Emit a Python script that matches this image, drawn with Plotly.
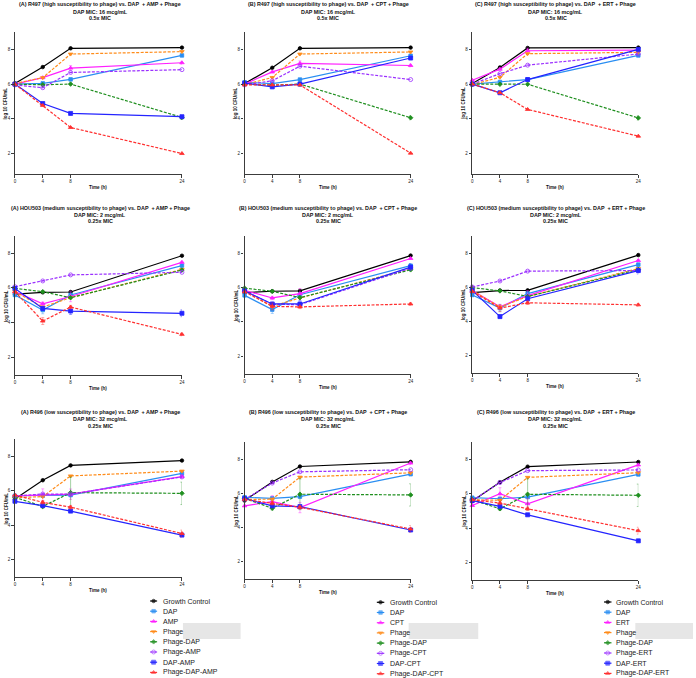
import plotly.graph_objects as go

W, H = 696, 678

TIME = [0, 4, 8, 24]
X_TICKS = [0, 4, 8, 24]
Y_TICKS = [2, 4, 6, 8]

LETTERS = ["(A)", "(B)", "(C)"]
DRUGS = ["AMP", "CPT", "ERT"]
STRAINS = ["R497", "HOU503", "R496"]
SUSCEPT = ["high", "medium", "low"]
MIC_TEXT = ["16 mcg/mL", "2 mcg/mL", "32 mcg/mL"]
FRAC_TEXT = ["0.5x MIC", "0.25x MIC", "0.25x MIC"]

ROLES = ["GC", "DAP", "X", "Phage", "Phage-DAP", "Phage-X", "DAP-X", "Phage-DAP-X"]

# ---- row 1: R497 ----
R497_AMP = {
    "GC": [6.04, 6.98, 8.06, 8.10], "DAP": [6.00, 6.04, 6.27, 7.65],
    "X": [6.00, 6.37, 6.92, 7.23], "Phage": [6.04, 6.37, 7.73, 7.87],
    "Phage-DAP": [6.00, 5.96, 6.00, 4.08], "Phage-X": [5.95, 5.79, 6.67, 6.83],
    "DAP-X": [6.00, 4.88, 4.31, 4.12], "Phage-DAP-X": [6.00, 4.77, 3.50, 2.00],
}
R497_CPT = {
    "GC": [6.03, 6.94, 8.06, 8.10], "DAP": [6.10, 6.03, 6.26, 7.63],
    "X": [6.00, 6.70, 7.19, 7.07], "Phage": [5.97, 6.38, 7.73, 7.85],
    "Phage-DAP": [6.00, 5.93, 6.00, 4.06], "Phage-X": [5.95, 6.19, 7.03, 6.26],
    "DAP-X": [6.05, 5.84, 6.00, 7.50], "Phage-DAP-X": [5.95, 5.95, 5.95, 2.02],
}
R497_ERT = {
    "GC": [6.03, 6.96, 8.08, 8.10], "DAP": [6.00, 6.12, 6.26, 7.65],
    "X": [6.22, 6.86, 7.92, 7.96], "Phage": [5.97, 6.39, 7.75, 7.83],
    "Phage-DAP": [6.00, 5.99, 5.99, 4.05], "Phage-X": [6.00, 6.60, 7.09, 7.73],
    "DAP-X": [6.00, 5.50, 6.26, 8.00], "Phage-DAP-X": [6.00, 5.50, 4.54, 3.00],
}
# ---- row 2: HOU503 ----
HOU503_AMP = {
    "GC": [5.64, 5.74, 5.76, 7.86], "DAP": [5.59, 4.72, 5.59, 7.29],
    "X": [5.78, 5.08, 5.50, 7.48], "Phage": [5.78, 4.89, 5.43, 7.07],
    "Phage-DAP": [5.97, 5.78, 5.43, 7.03], "Phage-X": [6.07, 6.40, 6.75, 6.90],
    "DAP-X": [5.97, 4.81, 4.66, 4.53], "Phage-DAP-X": [5.78, 4.08, 4.89, 3.31],
}
HOU503_CPT = {
    "GC": [5.70, 5.78, 5.80, 7.86], "DAP": [5.54, 4.71, 5.58, 7.27],
    "X": [5.83, 5.39, 5.64, 7.69], "Phage": [5.80, 4.90, 5.39, 7.09],
    "Phage-DAP": [5.96, 5.78, 5.41, 7.03], "Phage-X": [5.80, 5.02, 5.00, 7.13],
    "DAP-X": [5.80, 5.04, 5.04, 7.19], "Phage-DAP-X": [5.75, 4.90, 4.87, 5.04],
}
HOU503_ERT = {
    "GC": [5.68, 5.80, 5.81, 7.88], "DAP": [5.54, 4.77, 5.62, 7.32],
    "X": [5.80, 4.85, 5.50, 7.56], "Phage": [5.80, 4.83, 5.45, 7.09],
    "Phage-DAP": [5.97, 5.78, 5.45, 7.03], "Phage-X": [6.01, 6.36, 6.94, 6.97],
    "DAP-X": [5.80, 4.27, 5.32, 6.97], "Phage-DAP-X": [5.75, 4.77, 5.08, 4.96],
}
# ---- row 3: R496 ----
R496_AMP = {
    "GC": [5.52, 6.61, 7.47, 7.75], "DAP": [5.71, 5.71, 5.75, 7.01],
    "X": [5.70, 5.76, 5.80, 6.82], "Phage": [5.60, 5.66, 6.86, 7.14],
    "Phage-DAP": [5.62, 5.09, 5.89, 5.85], "Phage-X": [5.70, 5.81, 5.81, 6.80],
    "DAP-X": [5.39, 5.14, 4.82, 3.43], "Phage-DAP-X": [5.75, 5.33, 5.05, 3.52],
}
R496_CPT = {
    "GC": [5.58, 6.67, 7.57, 7.84], "DAP": [5.77, 5.71, 5.81, 7.12],
    "X": [5.27, 5.52, 5.17, 7.77], "Phage": [5.65, 5.66, 6.95, 7.20],
    "Phage-DAP": [5.71, 5.13, 5.95, 5.91], "Phage-X": [5.65, 6.60, 7.26, 7.38],
    "DAP-X": [5.70, 5.27, 5.23, 3.86], "Phage-DAP-X": [5.65, 5.42, 5.19, 3.92],
}
R496_ERT = {
    "GC": [5.58, 6.67, 7.57, 7.84], "DAP": [5.77, 5.71, 5.81, 7.12],
    "X": [5.32, 6.00, 5.42, 7.67], "Phage": [5.65, 5.62, 6.95, 7.22],
    "Phage-DAP": [5.65, 5.13, 5.97, 5.91], "Phage-X": [5.60, 6.65, 7.34, 7.38],
    "DAP-X": [5.60, 5.27, 4.78, 3.27], "Phage-DAP-X": [5.65, 5.46, 5.13, 3.86],
}

# error bars (SD) for the visible ones; others are zero
ERR_R497 = {"Phage-DAP": [0, 0, 0, 0.12], "X": [0, 0.05, 0.15, 0.08]}
ERR_HOU503 = {"DAP": [0, 0.22, 0.1, 0.1], "X": [0.15, 0.1, 0.3, 0.05],
              "Phage-DAP-X": [0, 0.2, 0.1, 0.08], "DAP-X": [0, 0.1, 0.2, 0.2]}
ERR_R496 = {"Phage-DAP": [0.05, 0.1, 0.9, 0.65], "X": [0, 0.35, 0.3, 0.1],
            "Phage-DAP-X": [0, 0.1, 0.1, 0.2]}

PANELS = [
    [R497_AMP, R497_CPT, R497_ERT],
    [HOU503_AMP, HOU503_CPT, HOU503_ERT],
    [R496_AMP, R496_CPT, R496_ERT],
]
ERRS = [ERR_R497, ERR_HOU503, ERR_R496]

STYLE = {
    "GC": dict(color="#000000", dash="solid", symbol="circle", size=3.5),
    "DAP": dict(color="#2A8EF2", dash="solid", symbol="square", size=3.5),
    "X": dict(color="#FF1FFF", dash="solid", symbol="triangle-up", size=4),
    "Phage": dict(color="#FF8C1A", dash="3px,1.5px", symbol="triangle-down", size=4),
    "Phage-DAP": dict(color="#1F8F1F", dash="3px,1.5px", symbol="diamond", size=3.5),
    "Phage-X": dict(color="#9B30FF", dash="3px,1.5px", symbol="circle-open", size=4),
    "DAP-X": dict(color="#2424FF", dash="solid", symbol="square", size=4),
    "Phage-DAP-X": dict(color="#FF3030", dash="3px,1.5px", symbol="triangle-up", size=4),
}


def role_label(role, drug):
    return {"GC": "Growth Control"}.get(role, role.replace("X", drug))


def rgba(hexc, a):
    h = hexc.lstrip("#")
    return "rgba(%d,%d,%d,%s)" % (int(h[0:2], 16), int(h[2:4], 16), int(h[4:6], 16), a)


# ---- layout geometry (pixels) ----
COL_X = [(14, 182), (245, 412), (474, 641)]
ROW_Y = [[(32, 174), (32, 174), (32, 174)],
         [(236, 375), (236, 374), (236, 373)],
         [(439, 577), (442, 579), (442, 580)]]
ROW_RANGE = [[0.82, 9.0], [0.96, 9.0], [1.0, 9.0]]
TITLE_Y = [(4.5, 11.5, 18.0), (208.0, 215.0, 221.5), (411.5, 419.0, 426.0)]
TITLE_XC = [100, 329, 558]
LEG_X = [(150, 157, 161), (378, 385.5, 389), (606.5, 614, 617)]
LEG_Y0 = [601, 602.3, 602]
LEG_DY = 10.2
GREY_BOXES = [(183, 241), (410, 480), (638, 696)]
GREY_Y = (623, 639)

FONT = "Arial, Liberation Sans, sans-serif"
AX_COL = "#3c3c3c"


def fx(p):
    return p / W


def fy(p):
    return 1 - p / H


fig = go.Figure()
layout = {}
annotations = []
shapes = []

for r in range(3):
    for c in range(3):
        k = r * 3 + c + 1
        sx = "" if k == 1 else str(k)
        x0, x1 = COL_X[c]
        ytop, ybot = ROW_Y[r][c]
        layout["xaxis" + sx] = dict(
            domain=[fx(x0), fx(x1)], range=[0, 24], anchor="y" + sx,
            showline=True, linecolor=AX_COL, linewidth=1.3, mirror=False,
            showgrid=False, zeroline=False, ticks="outside", ticklen=2.5,
            tickwidth=0.8, tickcolor=AX_COL, tickvals=X_TICKS,
            tickfont=dict(size=4.5, color="#222", family=FONT), fixedrange=True,
        )
        layout["yaxis" + sx] = dict(
            domain=[fy(ybot), fy(ytop)], range=ROW_RANGE[r], anchor="x" + sx,
            showline=True, linecolor=AX_COL, linewidth=1.3, showgrid=False,
            zeroline=False, ticks="outside", ticklen=2.5, tickwidth=0.8,
            tickcolor=AX_COL, tickvals=Y_TICKS,
            tickfont=dict(size=4.5, color="#222", family=FONT), fixedrange=True,
        )
        data = PANELS[r][c]
        err = ERRS[r]
        drug = DRUGS[c]
        for role in ROLES:
            st = STYLE[role]
            e = err.get(role, [0, 0, 0, 0])
            fig.add_trace(go.Scatter(
                x=TIME, y=data[role], mode="lines+markers",
                name=role_label(role, drug), showlegend=False,
                xaxis="x" + sx, yaxis="y" + sx, cliponaxis=False,
                line=dict(color=st["color"], width=1.2, dash=st["dash"]),
                marker=dict(symbol=st["symbol"], size=st["size"], color=st["color"],
                            line=dict(color=st["color"], width=0.8)),
                error_y=dict(type="data", array=e, visible=True,
                             color=rgba(st["color"], 0.45), thickness=0.9, width=1.5),
            ))
        # titles
        lines = ["%s %s (%s susceptibility to phage) vs. DAP  + %s + Phage"
                 % (LETTERS[c], STRAINS[r], SUSCEPT[r], drug),
                 "DAP MIC: %s" % MIC_TEXT[r], FRAC_TEXT[r]]
        for li, txt in enumerate(lines):
            annotations.append(dict(
                text="<b>%s</b>" % txt, x=fx(TITLE_XC[c]), y=fy(TITLE_Y[r][li]),
                xref="paper", yref="paper", xanchor="center", yanchor="middle",
                showarrow=False, font=dict(size=5.4, color="#111", family=FONT)))
        # axis labels
        annotations.append(dict(
            text="<b>Time (h)</b>", x=fx((x0 + x1) / 2), y=fy(ybot + 13.5),
            xref="paper", yref="paper", xanchor="center", yanchor="middle",
            showarrow=False, font=dict(size=4.6, color="#111", family=FONT)))
        annotations.append(dict(
            text="<b>log 10 CFU/mL</b>", x=fx(x0 - 8.5), y=fy((ytop + ybot) / 2),
            xref="paper", yref="paper", xanchor="center", yanchor="middle",
            textangle=-90, showarrow=False,
            font=dict(size=4.5, color="#111", family=FONT)))

# ---- manual legends below each column ----
layout["xaxis10"] = dict(domain=[0, 1], range=[0, W], visible=False,
                         anchor="y10", fixedrange=True)
layout["yaxis10"] = dict(domain=[0, 1], range=[H, 0], visible=False,
                         anchor="x10", fixedrange=True)
for c in range(3):
    lx0, lx1, tx = LEG_X[c]
    for i, role in enumerate(ROLES):
        st = STYLE[role]
        yy = LEG_Y0[c] + i * LEG_DY
        fig.add_trace(go.Scatter(
            x=[lx0, (lx0 + lx1) / 2, lx1], y=[yy, yy, yy], mode="lines+markers",
            xaxis="x10", yaxis="y10", showlegend=False, hoverinfo="skip",
            cliponaxis=False,
            line=dict(color=st["color"], width=1.2),
            marker=dict(symbol=st["symbol"], size=[0, st["size"], 0],
                        color=st["color"], line=dict(color=st["color"], width=0.8)),
        ))
        annotations.append(dict(
            text=role_label(role, DRUGS[c]), x=fx(tx), y=fy(yy),
            xref="paper", yref="paper", xanchor="left", yanchor="middle",
            showarrow=False, font=dict(size=7, color="#222", family=FONT)))

for gx0, gx1 in GREY_BOXES:
    shapes.append(dict(type="rect", xref="paper", yref="paper",
                       x0=fx(gx0), x1=fx(gx1), y0=fy(GREY_Y[1]), y1=fy(GREY_Y[0]),
                       fillcolor="#E6E6E6", line=dict(width=0), layer="below"))

fig.update_layout(
    width=W, height=H, margin=dict(l=0, r=0, t=0, b=0),
    paper_bgcolor="white", plot_bgcolor="rgba(0,0,0,0)",
    showlegend=False, annotations=annotations, shapes=shapes,
    font=dict(family=FONT),
    **layout,
)

fig.write_html("out.html",
               config={"displayModeBar": False},
               post_script="document.body.style.margin='0';"
                           "document.body.style.overflow='hidden';")
